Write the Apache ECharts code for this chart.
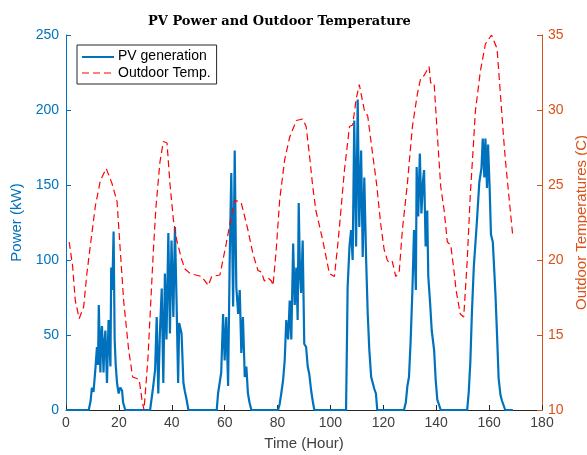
<!DOCTYPE html>
<html>
<head>
<meta charset="utf-8">
<script src="https://cdn.jsdelivr.net/npm/echarts@6/dist/echarts.min.js"></script>
<style>
html,body{margin:0;padding:0;background:#fff;}
#main{width:587px;height:455px;}
</style>
</head>
<body>
<div id="main"></div>
<script>
// PV generation (kW), time in hours
var pvTime = [0,8.6,9.3,9.8,10.4,11.1,11.7,12.1,12.4,13,13.3,13.6,14.2,14.5,14.9,15.5,15.8,16.1,16.8,17.1,17.5,18,18.4,18.8,19.3,19.9,20.5,21.2,21.6,22.4,
    31.8,32.4,33,33.7,34.3,34.9,35.5,36.2,36.8,37.4,38,38.7,39.3,39.9,40.6,41.2,41.8,42.4,42.8,43.7,44.4,45,45.6,46.3,
    57,57.5,58.7,59.4,60,60.6,61.3,61.9,62.5,63.2,63.8,64.4,65.1,65.7,66.3,66.9,67.6,68.2,68.8,69.4,70.1,
    80.2,80.8,81.4,82.1,82.7,83.3,84,84.6,85.2,85.9,86.5,87.1,87.6,88,88.5,88.9,89.5,90.1,90.8,91.4,92,92.7,93.3,93.9,
    105.9,106.2,106.5,107.2,107.8,108.4,109,109.7,110.3,110.9,111.6,112.2,112.8,113.5,114.1,114.7,115.4,116,116.6,117.2,117.7,
    127.8,128.5,129.1,129.7,130.3,131,131.6,132.3,132.6,133.2,133.8,134.4,135,135.4,136,136.6,137,137.7,138.3,139.2,139.8,140.4,141.7,
    151.7,152.3,152.9,153.5,154.2,155.4,156.3,157.1,157.6,158.2,158.6,159.2,159.6,160.2,160.7,161.4,162.4,163,163.6,164.3,164.9,166.1,169];
var pvPower = [0,0,6,15,12,27,42,30,70,25,48,56,25,45,53,18,40,60,29,95,80,119,47,30,18,11,15,13,5,0,
    0,8,16,27,62,11,51,81,18,91,47,118,51,113,62,122,73,18,58,51,18,12,7,0,
    0,11,25,64,33,62,16,100,158,69,173,82,64,80,38,62,22,29,11,5,0,
    0,4,11,20,33,60,47,73,47,111,70,95,60,138,90,78,113,44,42,29,24,13,6,0,
    0,40,82,109,120,100,193,109,207,122,173,102,155,100,64,40,22,18,14,11,0,
    0,5,16,22,45,80,120,80,162,129,171,131,153,160,109,133,89,71,53,40,20,7,0,
    0,12,32,65,95,126,152,161,181,155,181,148,177,148,117,112,77,50,21,10,6,0,0];

// Outdoor temperature (C)
var tempTime = [1.2,2.5,3.5,5,6.7,7.9,9.8,11.1,13,15.2,17.4,19.3,20.5,21.8,23.7,25.2,26.8,27.7,28.7,29.5,
    31,32,33,34,35.5,36.8,38.2,39.3,40.6,41.9,43.8,45,46.9,51.3,53.8,55.1,58.2,60.6,62.5,63.8,66.3,68.8,70.7,
    72.6,73.9,75,76.4,77.7,78.3,79.5,80.8,82.7,84.6,87.1,89.5,90.8,92,93.3,94.5,95.2,97.1,99.6,101.5,102.7,103.4,
    105.3,107.2,108.4,109.7,110.9,112.8,114.1,116,117.5,119,120.3,121.5,122.2,123.4,124.7,126,127.2,129.1,131,
    132.9,134.1,135.4,137.3,137.9,139.2,140.4,141.7,143,144.2,145.5,146.7,147.5,149.1,150.4,151.7,152.9,154,154.8,
    156.7,158.6,160.9,163,164.3,165.5,166.2,167.4,169];
var tempValue = [21.2,19.6,17.3,16.1,16.9,19.1,21.8,23.6,25.3,26.1,25.1,23.9,20.7,17.3,14,12.2,12.1,12,10.7,10,
    13.5,17,20.5,23.5,26.5,27.9,27.8,25.1,22.7,21.3,20,19.4,19.1,18.9,18.3,18.9,19,21.1,22.9,24,23.8,22,20.4,
    19.3,19.2,18.6,18.8,18.6,18.3,20.7,24,26.7,28.2,29.3,29.4,28.9,27.1,24.9,23.3,23.3,21.3,19.1,18.9,20.9,22.2,
    26,28.9,29,30.7,31.7,30,29.6,27,25,22.4,20.7,20,19.8,19.9,18.9,19.2,22,25.1,28.9,
    31.1,32.1,32.3,32.9,31.8,31.8,28.4,24.9,23.3,21.2,21,19.3,18,16.4,16.2,19.9,24.4,27.5,29.9,
    32.6,34.4,35,34.1,31,28.1,26.6,24.4,21.5];

var xTicks = [0,180,20];
var blue = '#0072BD', orange = '#D95319', grey = '#262626';

var pvData = pvTime.map(function(t, i){ return [t, pvPower[i]]; });
var tempData = tempTime.map(function(t, i){ return [t, tempValue[i]]; });

var myChart = echarts.init(document.getElementById('main'));
var font = 'Liberation Sans';
myChart.setOption({
    backgroundColor: '#fff',
    animation: false,
    title: {
        text: 'PV Power and Outdoor Temperature',
        left: 143, top: 10,
        textStyle: {fontFamily: 'DejaVu Serif', fontWeight: 'bold', fontSize: 13, color: '#000'}
    },
    legend: {
        orient: 'vertical', left: 77, top: 45,
        itemWidth: 32, itemHeight: 10, itemGap: 3,
        padding: [4, 6, 4, 4],
        borderColor: '#262626', borderWidth: 1, borderRadius: 0,
        textStyle: {fontFamily: font, fontSize: 14, color: '#000'},
        data: [
            {name: 'PV generation', icon: 'none', itemStyle: {opacity: 0}},
            {name: 'Outdoor Temp.', icon: 'none', itemStyle: {opacity: 0}}
        ]
    },
    grid: {left: 66, right: 45, top: 35, bottom: 45, containLabel: false, outerBoundsMode: 'none'},
    xAxis: {
        type: 'value', min: xTicks[0], max: xTicks[1], interval: xTicks[2],
        name: 'Time (Hour)', nameLocation: 'middle', nameGap: 26,
        nameTextStyle: {fontFamily: font, fontSize: 15, color: '#404040'},
        axisLine: {lineStyle: {color: grey}},
        axisTick: {inside: true, length: 5, lineStyle: {color: grey}},
        axisLabel: {fontFamily: font, fontSize: 14, color: '#404040', margin: 6},
        splitLine: {show: false}
    },
    yAxis: [{
        type: 'value', min: 0, max: 250, interval: 50, position: 'left',
        name: 'Power (kW)', nameLocation: 'middle', nameGap: 34, nameRotate: 90,
        nameTextStyle: {fontFamily: font, fontSize: 15, color: blue},
        axisLine: {show: true, lineStyle: {color: blue}},
        axisTick: {show: true, inside: true, length: 5, lineStyle: {color: blue}},
        axisLabel: {fontFamily: font, fontSize: 14, color: blue, margin: 7},
        splitLine: {show: false}
    }, {
        type: 'value', min: 10, max: 35, interval: 5, position: 'right',
        name: 'Outdoor Temperatures (C)', nameLocation: 'middle', nameGap: 28, nameRotate: 90,
        nameTextStyle: {fontFamily: font, fontSize: 15, color: orange},
        axisLine: {show: true, lineStyle: {color: orange}},
        axisTick: {show: true, inside: true, length: 5, lineStyle: {color: orange}},
        axisLabel: {fontFamily: font, fontSize: 14, color: orange, margin: 6},
        splitLine: {show: false}
    }],
    series: [{
        name: 'PV generation', type: 'line', yAxisIndex: 0,
        showSymbol: false, symbol: 'none',
        lineStyle: {color: blue, width: 2.2},
        itemStyle: {color: blue},
        data: pvData
    }, {
        name: 'Outdoor Temp.', type: 'line', yAxisIndex: 1,
        showSymbol: false, symbol: 'none',
        lineStyle: {color: '#FF0000', width: 1.2, type: [7, 4]},
        itemStyle: {color: '#FF0000'},
        data: tempData
    }],
    graphic: [
        {type: 'line', shape: {x1: 82, y1: 57, x2: 114, y2: 57}, style: {stroke: blue, lineWidth: 2}},
        {type: 'line', shape: {x1: 82, y1: 73, x2: 114, y2: 73}, style: {stroke: '#FF0000', lineWidth: 1.2, lineDash: [7, 4]}}
    ]
});
</script>
</body>
</html>
